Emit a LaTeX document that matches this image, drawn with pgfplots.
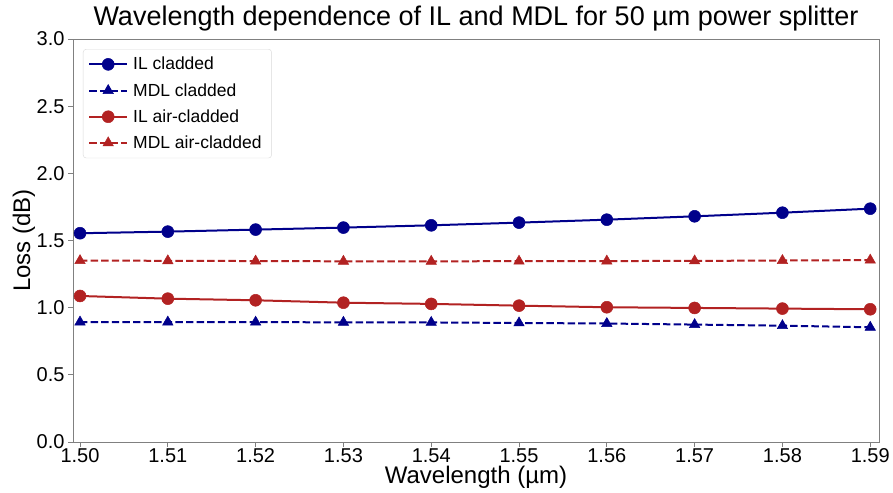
\documentclass[border=0pt]{standalone}
\usepackage{fontspec}
\setmainfont{Liberation Sans}
\usepackage{pgfplots}
\pgfplotsset{compat=1.18}
\definecolor{cnavy}{RGB}{0,0,139}
\definecolor{cred}{RGB}{178,34,34}
\definecolor{frame}{RGB}{128,128,128}
\pgfplotsset{
  mylegend/.style={legend image code/.code={
    \draw[mark repeat=2, mark phase=2, ##1] plot coordinates {(0pt,0pt) (19pt,0pt) (38pt,0pt)};}}
}
\begin{document}
\begin{tikzpicture}
\begin{axis}[
  scale only axis,
  width=806pt, height=403pt,
  xmin=1.4992, xmax=1.5910,
  ymin=0, ymax=3.0,
  xtick={1.50,1.51,1.52,1.53,1.54,1.55,1.56,1.57,1.58,1.59},
  ytick={0,0.5,1.0,1.5,2.0,2.5,3.0},
  /pgf/number format/assume math mode=true,
  xticklabel style={anchor=base, inner sep=0pt, yshift=-15pt, /pgf/number format/.cd, fixed, fixed zerofill, precision=2},
  yticklabel style={/pgf/number format/.cd, fixed, fixed zerofill, precision=1},
  tick label style={font=\fontsize{20}{24}\selectfont},
  tick align=outside, tick pos=left,
  major tick length=5pt,
  every tick/.style={frame, line width=0.8pt},
  axis line style={frame, line width=0.8pt},
  xlabel={Wavelength (µm)}, ylabel={Loss (dB)},
  label style={font=\fontsize{24}{28}\selectfont},
  xlabel style={inner sep=0pt, at={(axis description cs:0.5,-0.1042)}, anchor=base},
  ylabel style={at={(axis description cs:-0.0608,0.5)}, anchor=center},
  title={Wavelength dependence of IL and MDL for 50 µm power splitter},
  title style={font=\fontsize{27}{31}\selectfont, at={(axis description cs:0.5,1)}, anchor=base, yshift=7pt},
  legend style={font=\fontsize{17.5}{20}\selectfont, draw=black!15, rounded corners=3pt, row sep=8pt, inner xsep=5pt, inner ysep=6pt, nodes={inner xsep=5pt}, at={(0.0124,0.975)}, anchor=north west},
  legend cell align=left,
  every axis plot/.append style={line width=2pt},
]
\addplot[cnavy, mark=*, mark size=6pt, mark options={line width=0.5pt}, mylegend] coordinates {
(1.50,1.554) (1.51,1.566) (1.52,1.581) (1.53,1.596) (1.54,1.613)
(1.55,1.633) (1.56,1.655) (1.57,1.680) (1.58,1.707) (1.59,1.737)};
\addlegendentry{IL cladded}
\addplot[cnavy, dash pattern=on 7.4pt off 3.2pt, mark=triangle*, mark size=6pt, mark options={solid, line width=0.5pt}, mylegend] coordinates {
(1.50,0.893) (1.51,0.893) (1.52,0.892) (1.53,0.891) (1.54,0.890)
(1.55,0.886) (1.56,0.882) (1.57,0.874) (1.58,0.866) (1.59,0.854)};
\addlegendentry{MDL cladded}
\addplot[cred, mark=*, mark size=6pt, mark options={line width=0.5pt}, mylegend] coordinates {
(1.50,1.087) (1.51,1.067) (1.52,1.055) (1.53,1.037) (1.54,1.028)
(1.55,1.015) (1.56,1.003) (1.57,0.998) (1.58,0.993) (1.59,0.988)};
\addlegendentry{IL air-cladded}
\addplot[cred, dash pattern=on 7.4pt off 3.2pt, mark=triangle*, mark size=6pt, mark options={solid, line width=0.5pt}, mylegend] coordinates {
(1.50,1.350) (1.51,1.349) (1.52,1.347) (1.53,1.345) (1.54,1.345)
(1.55,1.346) (1.56,1.347) (1.57,1.348) (1.58,1.351) (1.59,1.354)};
\addlegendentry{MDL air-cladded}
\end{axis}
\path (current axis.south west) ++(-73pt,-50pt) coordinate (bbA);
\path (current axis.north east) ++(14pt,39pt) coordinate (bbB);
\pgfresetboundingbox
\useasboundingbox (bbA) rectangle (bbB);
\end{tikzpicture}
\end{document}
